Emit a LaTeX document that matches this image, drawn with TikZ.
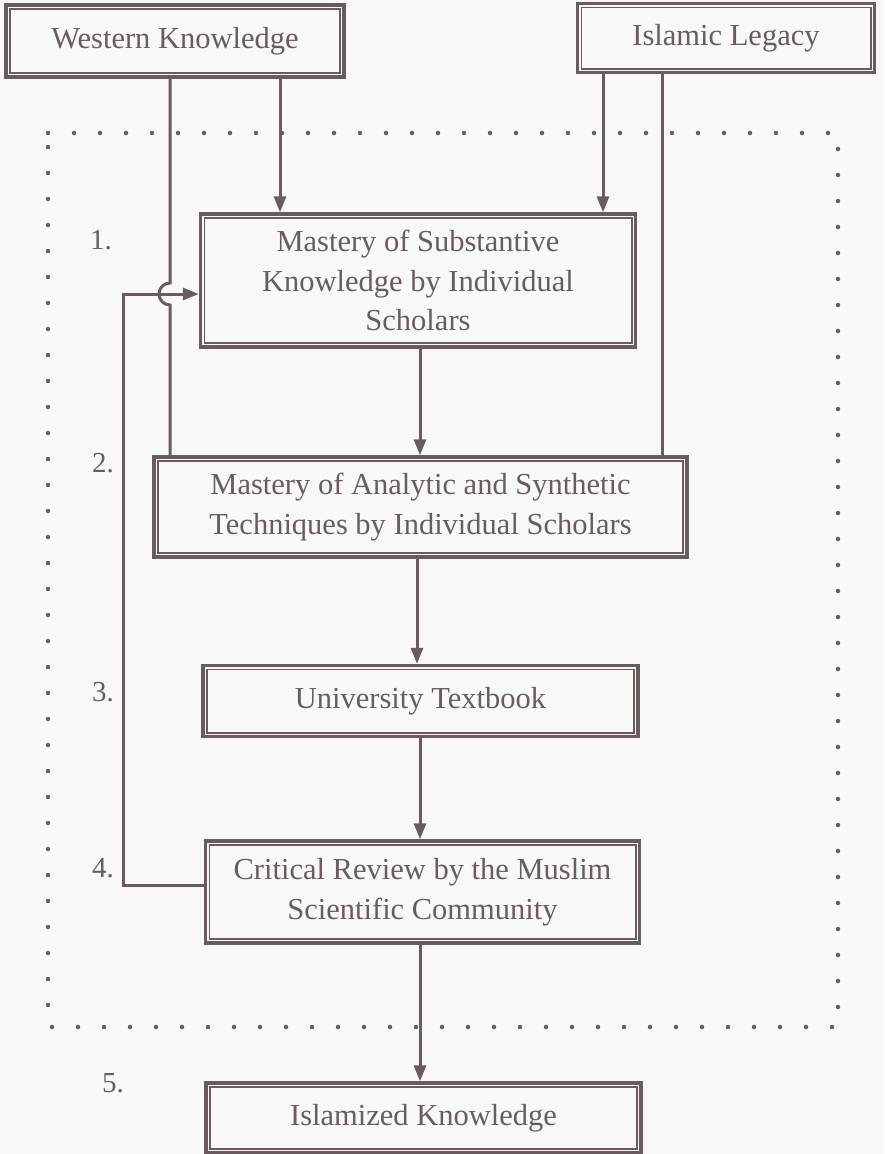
\documentclass[tikz,border=0pt]{standalone}
\usepackage{fontspec}
\setmainfont{Liberation Serif}
\usetikzlibrary{arrows.meta}
\definecolor{ink}{RGB}{106,92,92}
\definecolor{bg}{RGB}{248,248,248}
\begin{document}
\begin{tikzpicture}[x=1pt,y=-1pt,
  box/.style={inner sep=0pt, align=center, text=ink, font=\fontsize{30.5}{39.5}\selectfont,
    draw=ink, line width=3.4pt, fill=bg},
  conn/.style={draw=ink, line width=3pt},
  arr/.style={conn, -{Triangle[length=16pt,width=12pt]}},
  num/.style={text=ink, font=\fontsize{29}{32}\selectfont, inner sep=0pt},
  dots/.style={draw=ink, line width=4.5pt, line cap=round, dash pattern=on 0pt off 26pt}]
\fill[bg] (0,0) rectangle (884,1154);
\useasboundingbox (0,0) rectangle (884,1154);
% dotted frame
\draw[dots] (48,133) -- (838,133) -- (838,1027) -- (48,1027) -- cycle;
% boxes
\node[box, minimum width=338pt, minimum height=72pt] (w) at (175,41) {Western Knowledge};
\node[box, minimum width=297pt, minimum height=69pt] (il) at (726,38) {Islamic Legacy};
\node[box, minimum width=435pt, minimum height=133pt] (b1) at (418,280.5) {Mastery of Substantive\\Knowledge by Individual\\Scholars};
\node[box, minimum width=533pt, minimum height=100pt] (b2) at (420.5,507) {Mastery of Analytic and Synthetic\\Techniques by Individual Scholars};
\node[box, minimum width=435pt, minimum height=71pt] (b3) at (420.5,701) {University Textbook};
\node[box, minimum width=434pt, minimum height=102pt] (b4) at (422.5,892) {Critical Review by the Muslim\\Scientific Community};
\node[box, minimum width=435pt, minimum height=70pt] (b5) at (423.5,1118) {Islamized Knowledge};
\foreach \n in {w,il,b1,b2,b3,b4,b5}{
  \draw[ink, line width=1.6pt] ([shift={(5.5pt,-5.5pt)}]\n.north west) rectangle ([shift={(-5.5pt,5.5pt)}]\n.south east);
}
% numbers
\node[num] (n1) at (101,240) {1.};
\node[num] (n2) at (103,463) {2.};
\node[num] (n3) at (103,692) {3.};
\node[num] (n4) at (103,868) {4.};
\node[num] (n5) at (113,1083) {5.};
% connectors from sources
\draw[arr] (w.south -| 280,0) -- (b1.north -| 280,0);
\draw[arr] (il.south -| 603,0) -- (b1.north -| 603,0);
\draw[conn] (il.south -| 662,0) -- (b2.north -| 662,0);
\draw[conn] (w.south -| 170,0) -- (170,283) arc[start angle=90, end angle=270, radius=11pt] -- (b2.north -| 170,0);
% main chain
\draw[arr] (b1.south -| 420,0) -- (b2.north -| 420,0);
\draw[arr] (b2.south -| 417,0) -- (b3.north -| 417,0);
\draw[arr] (b3.south -| 420,0) -- (b4.north -| 420,0);
\draw[arr] (b4.south -| 420,0) -- (b5.north -| 420,0);
% feedback
\draw[arr] (b4.west |- 0,885) -- (123,885) -- (123,294) -- (b1.west |- 0,294);
\end{tikzpicture}
\end{document}
